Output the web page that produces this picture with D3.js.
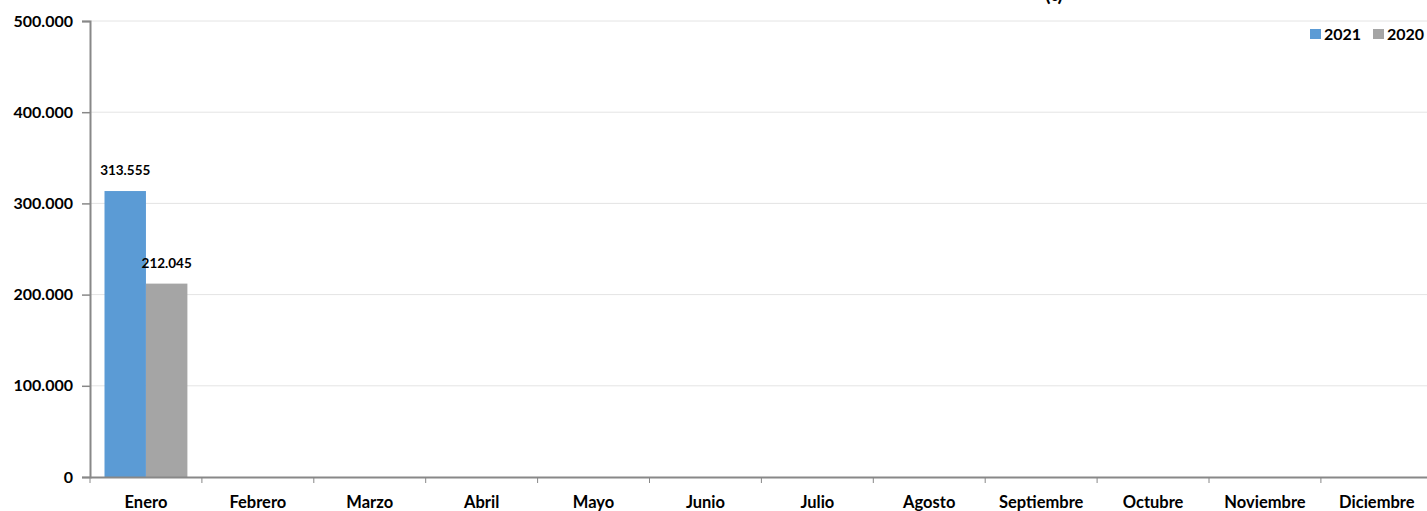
<!DOCTYPE html>
<html>
<head>
<meta charset="utf-8">
<script src="https://cdn.jsdelivr.net/npm/d3@7"></script>
<style>
  html, body { margin: 0; padding: 0; background: #fff; overflow: hidden; }
  svg { display: block; font-family: "Lato", "Open Sans", sans-serif; }
</style>
</head>
<body>
<svg id="chart" width="1427" height="511"></svg>
<script>
const months = ["Enero","Febrero","Marzo","Abril","Mayo","Junio","Julio","Agosto","Septiembre","Octubre","Noviembre","Diciembre"];
const seriesNames = ["2021","2020"];
const values2021 = [313555, null, null, null, null, null, null, null, null, null, null, null];
const values2020 = [212045, null, null, null, null, null, null, null, null, null, null, null];
const yTicks = [0, 100000, 200000, 300000, 400000, 500000];
const colors = ["#5B9BD5", "#A5A5A5"];
const titleText = "(t)";

const svg = d3.select("#chart");
const mLeft = 90, mTop = 21, mBottom = 477;
const bandW = 111.9;
const x = d3.scaleBand().domain(months).range([mLeft, mLeft + bandW * months.length]).paddingInner(0).paddingOuter(0);
const xs = d3.scaleBand().domain(seriesNames).range([0, x.bandwidth()]).paddingInner(0).paddingOuter(0.35);
const y = d3.scaleLinear().domain([0, 500000]).range([mBottom, mTop]);
const fmt = v => d3.format(",")(v).replace(/,/g, ".");

// title (cut off at top, as in the reference)
svg.append("text").attr("x", 1054).attr("y", 1).attr("text-anchor", "middle")
  .attr("font-size", 20).attr("font-weight", "bold").attr("fill", "#000").text(titleText);

// gridlines
svg.append("g").selectAll("line").data(yTicks.filter(d => d > 0)).join("line")
  .attr("x1", mLeft).attr("x2", 1427)
  .attr("y1", d => y(d)).attr("y2", d => y(d))
  .attr("stroke", "#e4e4e4").attr("stroke-width", 1);

// bars
const data = [values2021, values2020];
seriesNames.forEach((s, si) => {
  const vals = data[si];
  const rows = months.map((m, i) => ({m, v: vals[i]})).filter(d => d.v != null);
  const g = svg.append("g");
  g.selectAll("rect").data(rows).join("rect")
    .attr("x", d => x(d.m) + xs(s))
    .attr("width", xs.bandwidth())
    .attr("y", d => y(d.v))
    .attr("height", d => y(0) - y(d.v))
    .attr("fill", colors[si]);
  g.selectAll("text").data(rows).join("text")
    .attr("x", d => x(d.m) + xs(s) + xs.bandwidth() / 2)
    .attr("y", d => y(d.v) - 16)
    .attr("text-anchor", "middle")
    .attr("font-size", 13.5).attr("font-weight", "bold").attr("fill", "#000")
    .text(d => fmt(d.v));
});

// y axis
const yAxis = d3.axisLeft(y).tickValues(yTicks).tickSize(8).tickPadding(9).tickFormat(fmt);
const gy = svg.append("g").attr("transform", `translate(${mLeft},0)`).call(yAxis);
gy.select(".domain").attr("stroke", "#888").attr("stroke-width", 2);
gy.selectAll(".tick line").attr("stroke", "#888").attr("stroke-width", 1.5);
gy.selectAll(".tick text").attr("font-size", 16).attr("font-weight", "bold").attr("fill", "#000")
  .attr("font-family", "Lato, sans-serif");

// x axis
const xAxis = d3.axisBottom(x).tickSize(0).tickPadding(19);
const gx = svg.append("g").attr("transform", `translate(0,${mBottom})`).call(xAxis);
gx.select(".domain").attr("stroke", "#888").attr("stroke-width", 2);
gx.selectAll(".tick text").attr("font-size", 16.5).attr("font-weight", "bold").attr("fill", "#000")
  .attr("font-family", "Lato, sans-serif");
gx.append("g").selectAll("line").data(months).join("line")
  .attr("x1", d => x(d)).attr("x2", d => x(d))
  .attr("y1", 0).attr("y2", 6)
  .attr("stroke", "#888").attr("stroke-width", 1);

// legend
const legend = svg.append("g").attr("transform", "translate(1310,29)");
const legX = [0, 63];
seriesNames.forEach((s, i) => {
  legend.append("rect").attr("x", legX[i]).attr("y", 0).attr("width", 11).attr("height", 10).attr("fill", colors[i]);
  legend.append("text").attr("x", legX[i] + 14).attr("y", 11).attr("font-size", 16).attr("font-weight", "bold")
    .attr("fill", "#000").text(s);
});
</script>
</body>
</html>
